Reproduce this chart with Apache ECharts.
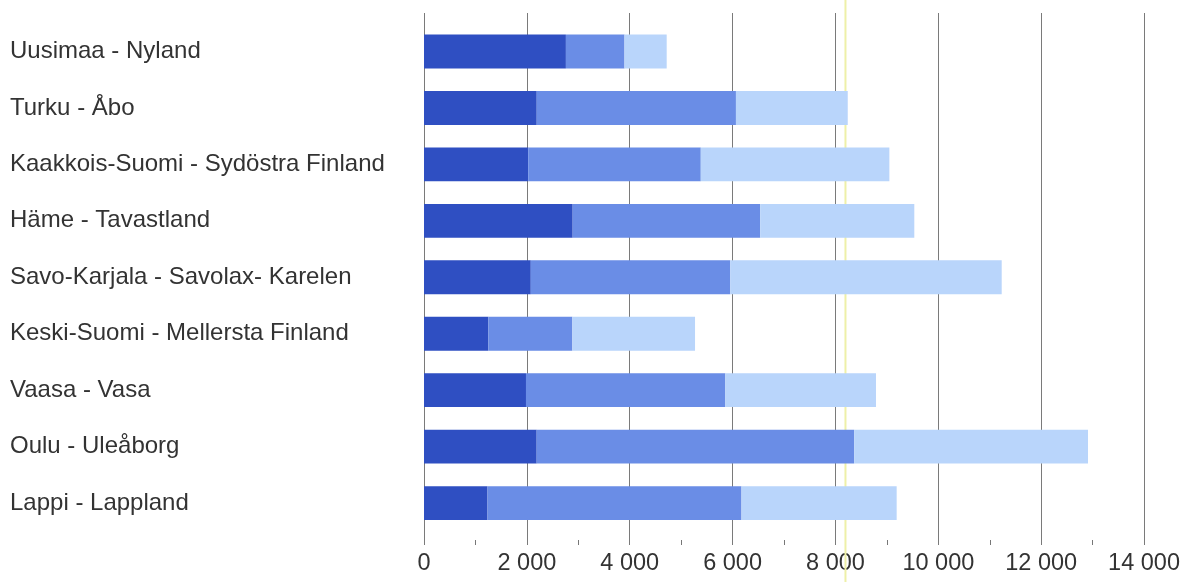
<!DOCTYPE html>
<html>
<head>
<meta charset="utf-8">
<script src="https://cdn.jsdelivr.net/npm/echarts@6/dist/echarts.min.js"></script>
<style>
html,body{margin:0;padding:0;background:#fff;}
#chart{width:1183px;height:582px;}
</style>
</head>
<body>
<div id="chart"></div>
<script>
var categories = [
  "Uusimaa - Nyland",
  "Turku - Åbo",
  "Kaakkois-Suomi - Sydöstra Finland",
  "Häme - Tavastland",
  "Savo-Karjala - Savolax- Karelen",
  "Keski-Suomi - Mellersta Finland",
  "Vaasa - Vasa",
  "Oulu - Uleåborg",
  "Lappi - Lappland"
];
// stacked segment values (each segment's own length)
var seriesDark   = [2744, 2180, 2015, 2875, 2065, 1245, 1972, 2179, 1228];
var seriesMedium = [1133, 3852, 3337, 3626, 3858, 1624, 3855, 6139, 4911];
var seriesLight  = [ 816, 2162, 3647, 2980, 5248, 2372, 2913, 4522, 3001];
var referenceLineValue = 8150;
var xTicks = [0, 2000, 4000, 6000, 8000, 10000, 12000, 14000];

var colors = ["#2f4fc2", "#6a8de6", "#b9d5fb"];
var FONT = "'Liberation Sans', Arial, sans-serif";

function fmt(v){
  return String(v).replace(/\B(?=(\d{3})+(?!\d))/g, " ");
}

var chart = echarts.init(document.getElementById('chart'), null, {renderer:'canvas'});
var L = 424, R = 1183 - 1148;
chart.setOption({
  animation: false,
  backgroundColor: '#ffffff',
  grid: [
    {left: L, right: R, top: 13, height: 532, containLabel: false},
    {left: L, right: R, top: 23.3, height: 508, containLabel: false},
    {left: L, right: R, top: 0, height: 582, containLabel: false}
  ],
  xAxis: [
    {
      gridIndex: 0, type: 'value', min: xTicks[0], max: xTicks[xTicks.length-1], interval: 2000,
      axisLine: {show: false},
      axisTick: {show: false, inside: true},
      minorTick: {show: true, splitNumber: 2, length: 5, lineStyle: {color: '#777', width: 1}},
      splitLine: {show: true, lineStyle: {color: '#7a7a7a', width: 1}},
      axisLabel: {
        show: true, margin: 7, color: '#333', fontFamily: FONT, fontSize: 23.5,
        formatter: function(v){ return fmt(v); }
      }
    },
    {gridIndex: 1, type: 'value', min: 0, max: 14000, show: false},
    {gridIndex: 2, type: 'value', min: 0, max: 14000, show: false}
  ],
  yAxis: [
    {gridIndex: 0, type: 'value', min: 0, max: 1, show: false},
    {
      gridIndex: 1, type: 'category', data: categories, inverse: true,
      axisLine: {show: false}, axisTick: {show: false}, splitLine: {show: false},
      axisLabel: {
        show: true, align: 'left', margin: L - 10, color: '#333',
        fontFamily: FONT, fontSize: 24
      }
    },
    {gridIndex: 2, type: 'value', min: 0, max: 1, show: false}
  ],
  series: [
    {
      type: 'line', xAxisIndex: 2, yAxisIndex: 2, symbol: 'none', silent: true,
      data: [[referenceLineValue, 0], [referenceLineValue, 1]],
      lineStyle: {color: '#eef0a8', width: 2}, z: 1
    },
    {
      name: 'dark', type: 'bar', stack: 's', xAxisIndex: 1, yAxisIndex: 1,
      data: seriesDark, barCategoryGap: '40%', itemStyle: {color: colors[0]}, z: 2
    },
    {
      name: 'medium', type: 'bar', stack: 's', xAxisIndex: 1, yAxisIndex: 1,
      data: seriesMedium, barCategoryGap: '40%', itemStyle: {color: colors[1]}, z: 2
    },
    {
      name: 'light', type: 'bar', stack: 's', xAxisIndex: 1, yAxisIndex: 1,
      data: seriesLight, barCategoryGap: '40%', itemStyle: {color: colors[2]}, z: 2
    }
  ]
});
</script>
</body>
</html>
